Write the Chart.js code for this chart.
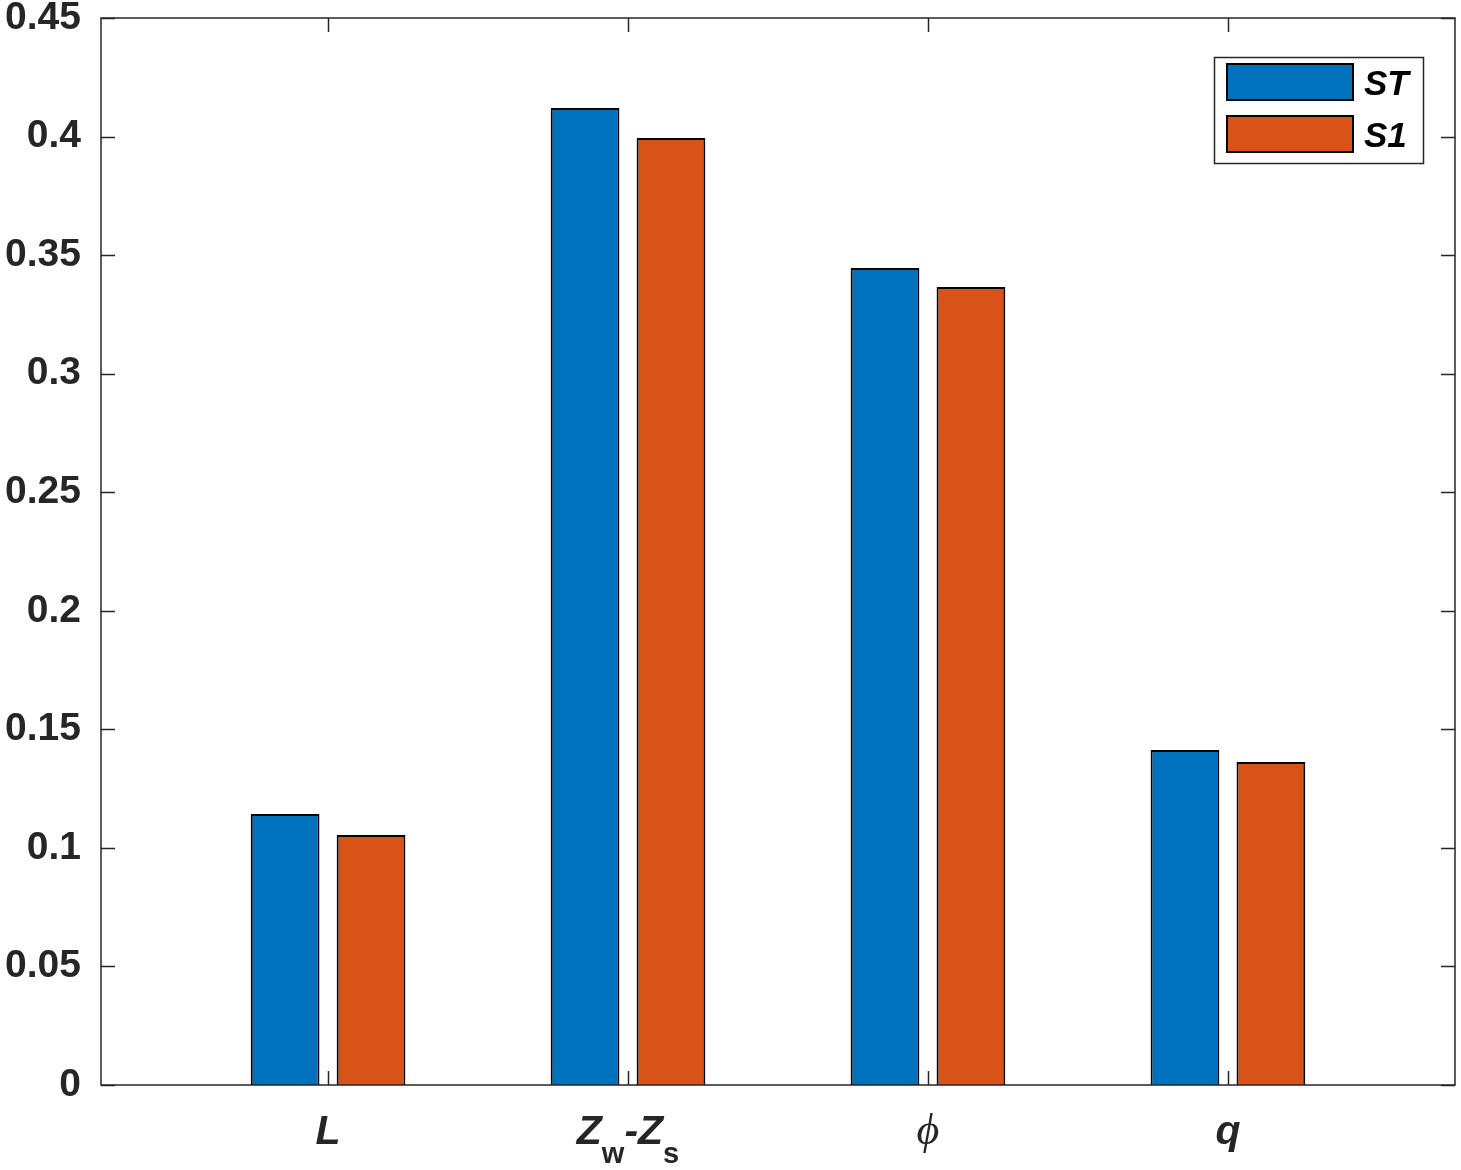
<!DOCTYPE html>
<html>
<head>
<meta charset="utf-8">
<script src="https://cdn.jsdelivr.net/npm/chart.js@4.4.0/dist/chart.umd.min.js"></script>
<style>
  html, body { margin: 0; padding: 0; background: #fff; }
  #wrap { width: 1461px; height: 1170px; }
</style>
</head>
<body>
<div id="wrap"><canvas id="chart" width="1461" height="1170"></canvas></div>
<script>
const categories = ["L", "Zw-Zs", "phi", "q"]
const seriesNames = ["ST", "S1"]
const stValues = [0.1143, 0.4120, 0.3446, 0.1413]
const s1Values = [0.1054, 0.3994, 0.3366, 0.1362]
const yTicks = [0, 0.05, 0.1, 0.15, 0.2, 0.25, 0.3, 0.35, 0.4, 0.45]
const colors = ["#0072BD", "#D95319"]

const ctxElm = document.querySelector("#chart").getContext("2d")

const toPoints = vals => vals.map((v, i) => ({x: i + 1, y: v}))

// inward ticks, box, custom x labels and legend
const decor = {
	id: "decor",
	afterDraw(chart){
		const c = chart.ctx
		const a = chart.chartArea
		const xs = chart.scales.x
		const ys = chart.scales.y
		c.save()
		c.strokeStyle = "#262626"
		c.lineWidth = 1.5
		c.strokeRect(a.left, a.top, a.right - a.left, a.bottom - a.top)
		c.beginPath()
		yTicks.forEach(t => {
			let py = Math.round(ys.getPixelForValue(t)) + 0.5
			c.moveTo(a.left, py); c.lineTo(a.left + 14, py)
			c.moveTo(a.right, py); c.lineTo(a.right - 14, py)
		})
		categories.forEach((name, i) => {
			let px = Math.round(xs.getPixelForValue(i + 1)) + 0.5
			c.moveTo(px, a.bottom); c.lineTo(px, a.bottom - 14)
			c.moveTo(px, a.top); c.lineTo(px, a.top + 14)
		})
		c.stroke()

		// x labels
		c.fillStyle = "#262626"
		c.textBaseline = "alphabetic"
		const base = 1144
		const big = "italic bold 41px Arial, 'Liberation Sans', sans-serif"
		const small = "bold 29px Arial, 'Liberation Sans', sans-serif"
		categories.forEach((name, i) => {
			let px = xs.getPixelForValue(i + 1)
			if(name == "Zw-Zs"){
				let parts = [["Z", big, 0], ["w", small, 19], ["-Z", big, 0], ["s", small, 19]]
				let w = 0
				parts.forEach(p => { c.font = p[1]; w += c.measureText(p[0]).width })
				let x = px - w / 2
				parts.forEach(p => {
					c.font = p[1]
					c.textAlign = "left"
					c.fillText(p[0], x, base + p[2])
					x += c.measureText(p[0]).width
				})
			}else if(name == "phi"){
				c.font = "italic 44px 'Liberation Serif', 'DejaVu Serif', serif"
				c.textAlign = "center"
				c.fillText("\u03D5", px, base)
			}else{
				c.font = big
				c.textAlign = "center"
				c.fillText(name, px, base)
			}
		})

		// legend
		c.fillStyle = "#fff"
		c.fillRect(1214, 57, 209, 106)
		c.strokeStyle = "#262626"
		c.lineWidth = 1.5
		c.strokeRect(1214.5, 57.5, 209, 106)
		seriesNames.forEach((name, i) => {
			let y = 64 + i * 52
			c.fillStyle = colors[i]
			c.fillRect(1227, y, 126, 36)
			c.strokeStyle = "#000"
			c.lineWidth = 2
			c.strokeRect(1227, y, 126, 36)
			c.fillStyle = "#000"
			c.font = "italic bold 35px Arial, 'Liberation Sans', sans-serif"
			c.textAlign = "left"
			c.fillText(name, 1364, y + 31)
		})
		c.restore()
	}
}

let chart = new Chart(ctxElm, {
	type: "bar",
	data: {
		datasets: [{
			label: seriesNames[0],
			data: toPoints(stValues),
			backgroundColor: colors[0],
			borderColor: "#000",
			borderWidth: 2
		}, {
			label: seriesNames[1],
			data: toPoints(s1Values),
			backgroundColor: colors[1],
			borderColor: "#000",
			borderWidth: 2
		}]
	},
	options: {
		responsive: false,
		animation: false,
		categoryPercentage: 0.573,
		barPercentage: 0.8,
		layout: { padding: { top: 18, right: 6, left: 0, bottom: 0 } },
		plugins: { legend: { display: false }, tooltip: { enabled: false } },
		scales: {
			x: {
				type: "linear",
				offset: false,
				min: 0.243,
				max: 4.757,
				afterBuildTicks: s => { s.ticks = categories.map((_, i) => ({value: i + 1})) },
				grid: { display: false },
				border: { display: false },
				ticks: { display: false },
				afterFit: s => { s.height = 85; s.paddingLeft = 0; s.paddingRight = 0 }
			},
			y: {
				min: 0,
				max: 0.45,
				afterBuildTicks: s => { s.ticks = yTicks.map(v => ({value: v})) },
				grid: { display: false },
				border: { display: false },
				ticks: {
					color: "#262626",
					padding: 12,
					font: { family: "Arial, 'Liberation Sans', sans-serif", size: 39, weight: "bold" },
					callback: v => String(v)
				},
				afterFit: s => { s.width = 101; s.paddingTop = 0; s.paddingBottom = 0 }
			}
		}
	},
	plugins: [decor]
})
</script>
</body>
</html>
